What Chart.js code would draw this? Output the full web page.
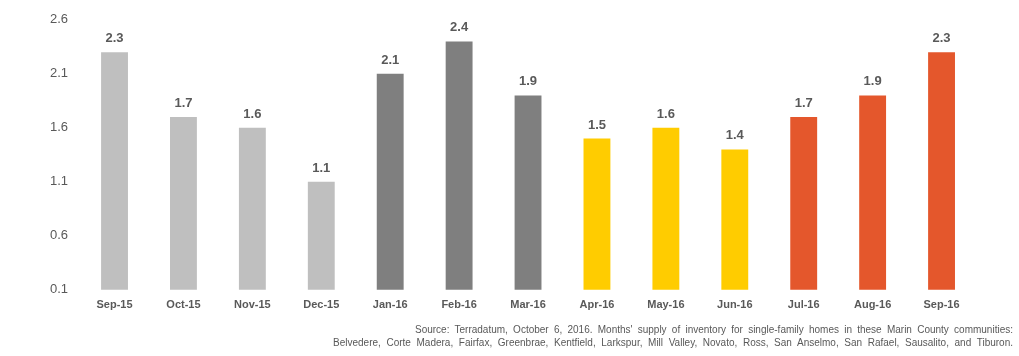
<!DOCTYPE html>
<html><head><meta charset="utf-8">
<script src="https://cdn.jsdelivr.net/npm/chart.js@4"></script>
<style>
html,body{margin:0;padding:0;background:#fff;}
#wrap{width:1019px;height:356px;position:relative;}
.src{position:absolute;font:10px 'Liberation Sans', Arial, sans-serif;color:#595959;text-align:justify;text-align-last:justify;white-space:nowrap;line-height:13px;height:13px;}
</style>
</head><body><div id="wrap"><canvas id="c" width="1019" height="356"></canvas>
<div class="src" id="s1" style="left:415px;top:323px;width:598px;"></div>
<div class="src" id="s2" style="left:333px;top:336px;width:680px;"></div>
</div>
<script>
const categories = ["Sep-15","Oct-15","Nov-15","Dec-15","Jan-16","Feb-16","Mar-16","Apr-16","May-16","Jun-16","Jul-16","Aug-16","Sep-16"];
const values = [2.3,1.7,1.6,1.1,2.1,2.4,1.9,1.5,1.6,1.4,1.7,1.9,2.3];
const barColors = ["#BFBFBF","#BFBFBF","#BFBFBF","#BFBFBF","#7F7F7F","#7F7F7F","#7F7F7F","#FFCC00","#FFCC00","#FFCC00","#E4572C","#E4572C","#E4572C"];
const yTicks = [0.1,0.6,1.1,1.6,2.1,2.6];
const sourceLines = [
  "Source: Terradatum, October 6, 2016. Months' supply of inventory for single-family homes in these Marin County communities:",
  "Belvedere, Corte Madera, Fairfax, Greenbrae, Kentfield, Larkspur, Mill Valley, Novato, Ross, San Anselmo, San Rafael, Sausalito, and Tiburon."
];
document.getElementById('s1').textContent = sourceLines[0];
document.getElementById('s2').textContent = sourceLines[1];
const FONT = "'Liberation Sans', Arial, sans-serif";
const TXT = "#595959";

const valueLabels = {
  id: 'valueLabels',
  afterDatasetsDraw(chart) {
    const ctx = chart.ctx;
    const meta = chart.getDatasetMeta(0);
    ctx.save();
    ctx.font = "bold 13px " + FONT;
    ctx.fillStyle = TXT;
    ctx.textAlign = 'center';
    ctx.textBaseline = 'alphabetic';
    meta.data.forEach((bar, i) => {
      ctx.fillText(values[i].toFixed(1), bar.x, bar.y - 10);
    });
    ctx.restore();
  }
};

new Chart(document.getElementById('c'), {
  type: 'bar',
  data: {
    labels: categories,
    datasets: [{ data: values, backgroundColor: barColors, borderWidth: 0, barPercentage: 0.39, categoryPercentage: 1.0 }]
  },
  options: {
    responsive: false,
    animation: false,
    layout: { padding: { left: 38, right: 43, top: 19, bottom: 35 } },
    plugins: {
      legend: { display: false },
      tooltip: { enabled: false },
      title: { display: false }
    },
    scales: {
      x: {
        grid: { display: false, drawTicks: false },
        border: { display: false },
        ticks: { color: TXT, font: { family: FONT, size: 11, weight: 'bold' }, padding: 9, maxRotation: 0 }
      },
      y: {
        min: 0.1, max: 2.6,
        grid: { display: false, drawTicks: false },
        border: { display: false },
        afterBuildTicks(axis) { axis.ticks = yTicks.map(v => ({ value: v })); },
        ticks: { color: TXT, font: { family: FONT, size: 13 }, padding: 12, callback: v => Number(v).toFixed(1) }
      }
    }
  },
  plugins: [valueLabels]
});
</script></body></html>
